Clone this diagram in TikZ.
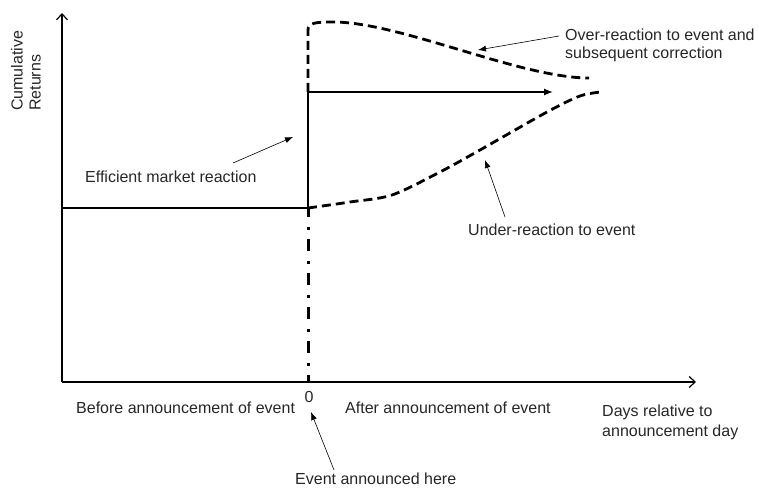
\documentclass[tikz,border=0pt]{standalone}
\usepackage{fontspec}
\setmainfont{Liberation Sans}
\usetikzlibrary{arrows.meta}
\tikzset{
  lbl/.style={font=\fontsize{16}{18}\selectfont, inner sep=0pt, text=black!85},
  axis/.style={line width=1.3pt, -{Straight Barb[length=6pt,width=11pt,line width=1.2pt]}},
  solidln/.style={line width=1.3pt},
  react/.style={line width=2.8pt, dash pattern=on 9pt off 5pt},
  eventln/.style={line width=3pt, dash pattern=on 12pt off 9pt on 3pt off 10pt, dash phase=5pt},
  callout/.style={line width=0.6pt, -{Latex[length=8pt,width=6pt]}},
}
\begin{document}
\begin{tikzpicture}[x=1pt,y=-1pt]
\useasboundingbox (0,0) rectangle (759,489);

% axes
\coordinate (origin) at (62,382);
\coordinate (ytop) at (62,13);
\coordinate (xend) at (696,382);
\draw[axis] (origin) -- (ytop);
\draw[axis] (origin) -- (xend);

% event day markers
\coordinate (base0) at (62,208);
\coordinate (event) at (308,208);
\coordinate (eventaxis) at (308,382);
\coordinate (jump) at (308,92);
\coordinate (effend) at (553,92);

% pre-announcement level and efficient jump
\draw[solidln] (base0) -- (event);
\draw[solidln] (event) -- (jump);
\draw[solidln, -{Latex[length=9pt,width=7pt]}] (jump) -- (effend);

% event day line
\draw[eventln] (eventaxis) -- (event);

% over-reaction then correction
\draw[react] (jump) -- (308,30) .. controls (308,23) and (315,22) .. (333,22)
  .. controls (400,22) and (520,78) .. (589,78);

% under-reaction, slow drift up
\draw[react] plot[smooth, tension=0.5] coordinates
  {(event) (350,202) (392,195) (440,172) (480,150) (547,112) (580,96) (601,92)};

% labels
\node[lbl, rotate=90, align=left, anchor=west] (ylab) at (26,111) {Cumulative\\Returns};
\node[lbl, anchor=base west] (eff) at (85,182) {Efficient market reaction};
\node[lbl, anchor=west, align=left] (over) at (565,45) {Over-reaction to event and\\subsequent correction};
\node[lbl] (zero) at (309,397) {0};
\node[lbl, anchor=base west] (under) at (468,235) {Under-reaction to event};
\node[lbl, anchor=base west] (before) at (76,413) {Before announcement of event};
\node[lbl, anchor=base west] (after) at (345,413) {After announcement of event};
\node[lbl, anchor=west, align=left, font=\fontsize{16}{20}\selectfont] (days) at (602,422) {Days relative to\\announcement day};
\node[lbl, anchor=base west] (ann) at (295,484) {Event announced here};

% callout arrows
\coordinate (effs) at (233,163);   \coordinate (efft) at (293,137);
\coordinate (overs) at (559,36);   \coordinate (overt) at (478,50);
\coordinate (unders) at (505,217); \coordinate (undert) at (485,160);
\coordinate (anns) at (334,470);   \coordinate (annt) at (311,412);
\draw[callout] (effs) -- (efft);
\draw[callout] (overs) -- (overt);
\draw[callout] (unders) -- (undert);
\draw[callout] (anns) -- (annt);
\end{tikzpicture}
\end{document}
